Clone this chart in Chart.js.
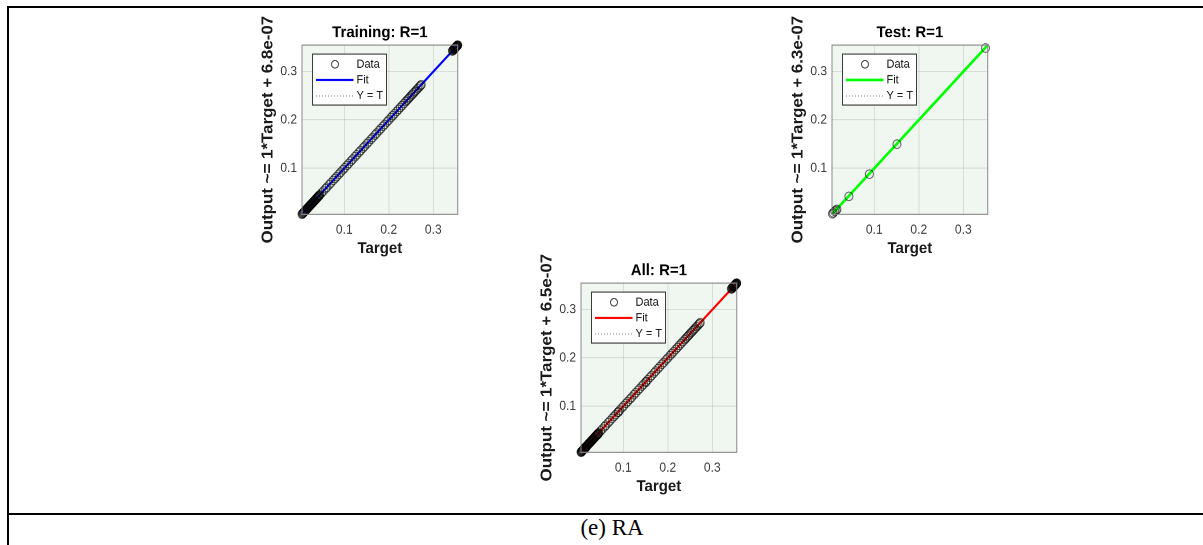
<!DOCTYPE html>
<html>
<head>
<meta charset="utf-8">
<title>Regression plots</title>
<script src="https://cdn.jsdelivr.net/npm/chart.js@4.4.1/dist/chart.umd.min.js"></script>
<style>
  html, body { margin: 0; padding: 0; background: #fff; }
  body { width: 1203px; height: 545px; position: relative; overflow: hidden; font-family: "Liberation Sans", Arial, sans-serif; }
  .rule { position: absolute; background: #000; }
  .panel { position: absolute; width: 220px; height: 236px; transform: scaleY(1.085); transform-origin: 0 0; }
  .panel canvas { display: block; }
  #caption { position: absolute; left: 512px; width: 200px; top: 515px; text-align: center;
             font-family: "Liberation Serif", "Times New Roman", serif; font-size: 23px; color: #000; }
</style>
</head>
<body>
<div class="rule" style="left:7px; top:6px; width:1196px; height:1.5px"></div>
<div class="rule" style="left:7px; top:6px; width:2px; height:539px"></div>
<div class="rule" style="left:7px; top:513px; width:1196px; height:2px"></div>

<div class="panel" style="left:250px; top:8px"><canvas id="c-train" width="220" height="236"></canvas></div>
<div class="panel" style="left:780px; top:8px"><canvas id="c-test" width="220" height="236"></canvas></div>
<div class="panel" style="left:529px; top:246px"><canvas id="c-all" width="220" height="236"></canvas></div>

<div id="caption">(e) RA</div>

<script>
// ---- data -------------------------------------------------------------
const axisMin = 0.005;
const axisMax = 0.355;
const tickValues = [0.1, 0.2, 0.3];
const tickLabels = ['0.1', '0.2', '0.3'];

const trainTarget = [
  0.005, 0.006, 0.007, 0.008, 0.009, 0.010, 0.011, 0.012, 0.013, 0.014, 0.015, 0.016,
  0.017, 0.018, 0.019, 0.020, 0.021, 0.022, 0.023, 0.024, 0.025, 0.026, 0.027, 0.028,
  0.029, 0.030, 0.031, 0.032, 0.033, 0.034, 0.035, 0.036, 0.037, 0.038, 0.039, 0.040,
  0.041, 0.042, 0.043, 0.044, 0.045,
  0.049, 0.053, 0.058, 0.061, 0.066, 0.070, 0.075, 0.079, 0.083, 0.088, 0.092, 0.097,
  0.101, 0.106, 0.110, 0.115, 0.119, 0.124, 0.128, 0.133, 0.137, 0.142, 0.146, 0.151,
  0.155, 0.160, 0.164, 0.169, 0.173, 0.178, 0.182, 0.187, 0.191, 0.196, 0.200, 0.205,
  0.209, 0.213, 0.218, 0.222, 0.226, 0.230, 0.234, 0.238, 0.241, 0.244, 0.247, 0.250,
  0.253, 0.256, 0.259, 0.262, 0.265, 0.268, 0.271, 0.273,
  0.343, 0.344, 0.345, 0.346, 0.347, 0.3475, 0.348, 0.3485, 0.349, 0.3495, 0.350,
  0.3505, 0.351, 0.3515, 0.352, 0.3525, 0.353, 0.3535, 0.354, 0.3545, 0.355
];
const trainOutput = [
  0.005, 0.006, 0.007, 0.008, 0.009, 0.010, 0.011, 0.012, 0.013, 0.014, 0.015, 0.016,
  0.017, 0.018, 0.019, 0.020, 0.021, 0.022, 0.023, 0.024, 0.025, 0.026, 0.027, 0.028,
  0.029, 0.030, 0.031, 0.032, 0.033, 0.034, 0.035, 0.036, 0.037, 0.038, 0.039, 0.040,
  0.041, 0.042, 0.043, 0.044, 0.045,
  0.049, 0.053, 0.058, 0.061, 0.066, 0.070, 0.075, 0.079, 0.083, 0.088, 0.092, 0.097,
  0.101, 0.106, 0.110, 0.115, 0.119, 0.124, 0.128, 0.133, 0.137, 0.142, 0.146, 0.151,
  0.155, 0.160, 0.164, 0.169, 0.173, 0.178, 0.182, 0.187, 0.191, 0.196, 0.200, 0.205,
  0.209, 0.213, 0.218, 0.222, 0.226, 0.230, 0.234, 0.238, 0.241, 0.244, 0.247, 0.250,
  0.253, 0.256, 0.259, 0.262, 0.265, 0.268, 0.271, 0.273,
  0.343, 0.344, 0.345, 0.346, 0.347, 0.3475, 0.348, 0.3485, 0.349, 0.3495, 0.350,
  0.3505, 0.351, 0.3515, 0.352, 0.3525, 0.353, 0.3535, 0.354, 0.3545, 0.355
];

const testTarget = [0.350, 0.151, 0.089, 0.043, 0.016, 0.014, 0.011, 0.008, 0.006];
const testOutput = [0.349, 0.150, 0.088, 0.042, 0.015, 0.013, 0.011, 0.008, 0.006];

// the "All" panel pools every sample
const allTarget = trainTarget.concat(testTarget);
const allOutput = trainOutput.concat(testOutput);

// fitted regression lines: Output ~= slope*Target + intercept
const trainFit = { slope: 1, intercept: 6.8e-07, r: 1 };
const testFit  = { slope: 1, intercept: 6.3e-07, r: 1 };
const allFit   = { slope: 1, intercept: 6.5e-07, r: 1 };

// ---- drawing ----------------------------------------------------------
const FONT = '"Liberation Sans", Arial, Helvetica, sans-serif';
Chart.defaults.font.family = FONT;

// pale plot background under the grid
const plotBackground = {
  id: 'plotBackground',
  beforeDraw(chart) {
    const { ctx, chartArea: a } = chart;
    ctx.save();
    ctx.fillStyle = '#f0f7f0';
    ctx.fillRect(a.left, a.top, a.right - a.left, a.bottom - a.top);
    ctx.restore();
  }
};

// closed axes box
const axesBox = {
  id: 'axesBox',
  afterDatasetsDraw(chart) {
    const { ctx, chartArea: a } = chart;
    ctx.save();
    ctx.strokeStyle = '#8a8a8a';
    ctx.lineWidth = 1;
    ctx.strokeRect(a.left, a.top, a.right - a.left, a.bottom - a.top);
    ctx.restore();
  }
};

// boxed legend in the upper-left corner of the plot
const boxLegend = {
  id: 'boxLegend',
  afterDraw(chart) {
    const { ctx, chartArea: a } = chart;
    const x0 = a.left + 10.5, y0 = a.top + 8.2, w = 74, h = 47;
    const rows = [9.5, 24, 38.7];
    ctx.save();
    ctx.fillStyle = '#ffffff';
    ctx.fillRect(x0, y0, w, h);
    ctx.strokeStyle = '#3c3c3c';
    ctx.lineWidth = 1;
    ctx.strokeRect(x0, y0, w, h);
    chart.data.datasets.forEach((ds, i) => {
      const y = y0 + rows[i];
      if (ds.showLine === false) {
        ctx.beginPath();
        ctx.arc(x0 + 22.5, y, ds.pointRadius - 0.5, 0, Math.PI * 2);
        ctx.strokeStyle = '#444';
        ctx.lineWidth = ds.pointBorderWidth;
        ctx.stroke();
      } else {
        ctx.beginPath();
        ctx.setLineDash(ds.borderDash || []);
        ctx.strokeStyle = ds.borderColor;
        ctx.lineWidth = ds.borderWidth;
        ctx.moveTo(x0 + 3.5, y);
        ctx.lineTo(x0 + 41, y);
        ctx.stroke();
        ctx.setLineDash([]);
      }
      ctx.fillStyle = '#111';
      ctx.font = '11px ' + FONT;
      ctx.textAlign = 'left';
      ctx.textBaseline = 'middle';
      ctx.fillText(ds.label, x0 + 44, y);
    });
    ctx.restore();
  }
};

function useTicks(scale) {
  scale.ticks = tickValues.map(v => ({ value: v }));
}

function makePanel(canvasId, name, targets, outputs, fit, fitColor, fitWidth) {
  const points = targets.map((t, i) => ({ x: t, y: outputs[i] }));
  const fitLine = [axisMin, axisMax].map(t => ({ x: t, y: fit.slope * t + fit.intercept }));
  const identity = [axisMin, axisMax].map(t => ({ x: t, y: t }));
  const eq = 'Output ~= ' + fit.slope + '*Target + ' + fit.intercept.toExponential(1).replace('e-', 'e-0');

  new Chart(document.getElementById(canvasId), {
    type: 'scatter',
    data: {
      datasets: [
        { label: 'Data', data: points, showLine: false, pointStyle: 'circle', pointRadius: 4,
          pointBorderWidth: 1, pointBackgroundColor: 'rgba(0,0,0,0)',
          pointBorderColor: 'rgba(0,0,0,0.6)', clip: false },
        { label: 'Fit', data: fitLine, showLine: true, borderColor: fitColor,
          borderWidth: fitWidth, pointRadius: 0 },
        { label: 'Y = T', data: identity, showLine: true, borderColor: '#8c8c8c',
          borderWidth: 1, borderDash: [1, 2], pointRadius: 0 }
      ]
    },
    options: {
      responsive: false,
      animation: false,
      devicePixelRatio: 2,
      layout: { padding: { left: 0, right: 12.25, top: 0, bottom: 0 } },
      plugins: {
        legend: { display: false },
        tooltip: { enabled: false },
        title: {
          display: true, text: name + ': R=' + fit.r, fullSize: false, color: '#000',
          font: { size: 15, weight: 'bold', lineHeight: 1.2 },
          padding: { top: 14.04, bottom: 2.15 }
        }
      },
      scales: {
        x: {
          type: 'linear', min: axisMin, max: axisMax,
          afterBuildTicks: useTicks,
          afterFit(s) { s.height = 45.95; },
          ticks: { callback: (v, i) => tickLabels[i], color: '#3a3a3a', font: { size: 12 },
                   padding: 7.4, maxRotation: 0, autoSkip: false },
          grid: { color: 'rgba(0,0,0,0.1)', drawTicks: false },
          border: { display: false },
          title: { display: true, text: 'Target', color: '#1a1a1a',
                   font: { size: 15, weight: 'bold', lineHeight: 1.2 },
                   padding: { top: 0, bottom: 4.9 } }
        },
        y: {
          type: 'linear', min: axisMin, max: axisMax,
          afterBuildTicks: useTicks,
          afterFit(s) { s.width = 52; },
          ticks: { callback: (v, i) => tickLabels[i], color: '#3a3a3a', font: { size: 12 },
                   padding: 5, autoSkip: false },
          grid: { color: 'rgba(0,0,0,0.1)', drawTicks: false },
          border: { display: false },
          title: { display: true, text: eq, color: '#1a1a1a',
                   font: { size: 15.6, weight: 'bold', lineHeight: 1.2 },
                   padding: { top: 8.6, bottom: 0 } }
        }
      }
    },
    plugins: [plotBackground, axesBox, boxLegend]
  });
}

makePanel('c-train', 'Training', trainTarget, trainOutput, trainFit, '#0000ff', 2);
makePanel('c-test', 'Test', testTarget, testOutput, testFit, '#00ff00', 2.5);
makePanel('c-all', 'All', allTarget, allOutput, allFit, '#ff0000', 2);
</script>
</body>
</html>
